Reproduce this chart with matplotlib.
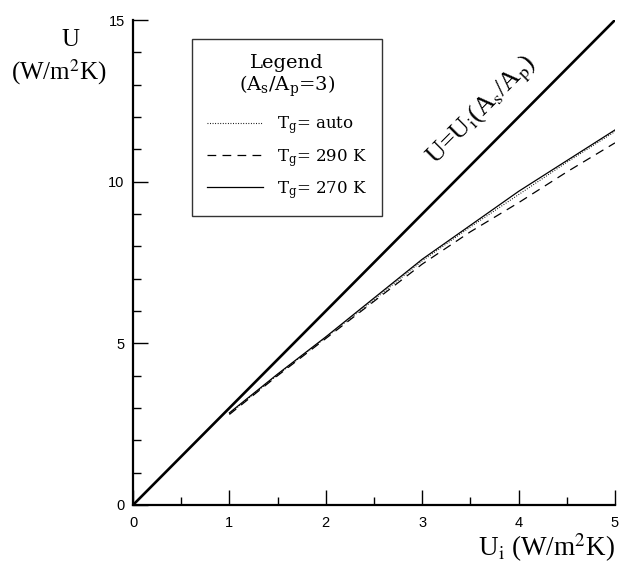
import matplotlib
matplotlib.use("Agg")
import matplotlib.pyplot as plt
from matplotlib.ticker import MultipleLocator

# data
ui_ref = [0, 5]
area_ratio = 3
ui = [1.0, 1.5, 2.0, 2.5, 3.0, 3.5, 4.0, 4.5, 5.0]
u_auto = [2.82, 4.02, 5.18, 6.35, 7.55, 8.60, 9.60, 10.60, 11.55]
u_290 = [2.80, 4.00, 5.15, 6.30, 7.45, 8.45, 9.35, 10.30, 11.20]
u_270 = [2.85, 4.05, 5.20, 6.40, 7.60, 8.65, 9.70, 10.65, 11.60]
labels = [r"T$_{\rm g}$= auto", r"T$_{\rm g}$= 290 K", r"T$_{\rm g}$= 270 K"]

fig = plt.figure(figsize=(6.2, 5.63), dpi=100)
ax = fig.add_axes([133/620, 58/563, 482/620, 485/563])

ax.plot(ui_ref, [area_ratio * v for v in ui_ref], color="black", lw=1.9, solid_capstyle="butt")
l1, = ax.plot(ui, u_auto, color="black", lw=0.8, linestyle=(0, (0.8, 1.5)))
l2, = ax.plot(ui, u_290, color="black", lw=0.9, linestyle=(0, (7, 5)))
l3, = ax.plot(ui, u_270, color="black", lw=0.9)

ax.set_xlim(0, 5)
ax.set_ylim(0, 15)
for s in ["top", "right"]:
    ax.spines[s].set_visible(False)
for s in ["left", "bottom"]:
    ax.spines[s].set_linewidth(1.6)

ax.xaxis.set_major_locator(MultipleLocator(1))
ax.xaxis.set_minor_locator(MultipleLocator(0.5))
ax.yaxis.set_major_locator(MultipleLocator(5))
ax.yaxis.set_minor_locator(MultipleLocator(1))
ax.tick_params(which="major", direction="in", length=11, width=1.0, labelsize=10.5)
ax.tick_params(axis="x", which="major", pad=8)
ax.tick_params(axis="y", which="major", pad=6)
ax.tick_params(which="minor", direction="in", length=6, width=1.0)
for t in ax.get_xticklabels() + ax.get_yticklabels():
    t.set_fontfamily("Liberation Sans")

# axis labels
fig.text(70/620, 1 - 40/563, "U", ha="center", va="center",
         fontfamily="Liberation Serif", fontsize=18)
fig.text(59/620, 1 - 72/563, r"(W/m$^{2}$K)", ha="center", va="center",
         fontfamily="Liberation Serif", math_fontfamily="stix", fontsize=18)
fig.text(615/620, 1 - 548/563, r"U$_{\rm i}$ (W/m$^{2}$K)", ha="right", va="center",
         fontfamily="Liberation Serif", math_fontfamily="stix", fontsize=19.5)

# annotation along the reference line
ax.text(3.62, 12.2, r"U=U$_{\rm i}$(A$_{\rm s}$/A$_{\rm p}$)", rotation=45,
        ha="center", va="center", fontfamily="Liberation Serif",
        math_fontfamily="stix", fontsize=19, rotation_mode="anchor")

# legend
leg = ax.legend([l1, l2, l3], labels,
                title="Legend\n" + r"(A$_{\rm s}$/A$_{\rm p}$=3)",
                loc="upper left", bbox_to_anchor=(0.122, 0.96),
                frameon=True, fancybox=False, edgecolor="black",
                handlelength=3.4, handletextpad=0.8, labelspacing=0.62,
                borderpad=0.9, borderaxespad=0,
                prop={"family": "DejaVu Serif", "size": 12, "math_fontfamily": "dejavuserif"},
                title_fontproperties={"family": "DejaVu Serif", "size": 14, "math_fontfamily": "dejavuserif"})
leg.get_frame().set_linewidth(1.0)
leg._legend_box.align = "center"
leg._legend_box.sep = 11
for t in leg.get_texts():
    t.set_math_fontfamily("dejavuserif")
leg.get_title().set_math_fontfamily("dejavuserif")
leg.get_title().set_multialignment("center")
leg.get_title().set_linespacing(1.1)

fig.savefig("out.png", dpi=100)
